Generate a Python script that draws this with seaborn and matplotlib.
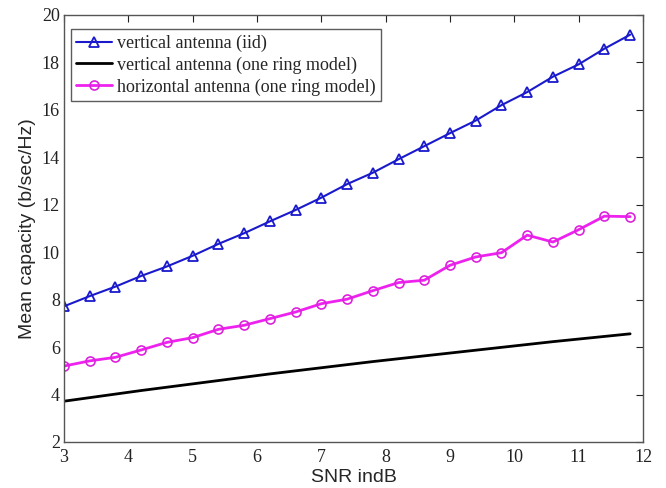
import numpy as np
import pandas as pd
import matplotlib
matplotlib.use("Agg")
import matplotlib.pyplot as plt
import seaborn as sns

snr_db = [3.0, 3.4, 3.8, 4.2, 4.6, 5.0, 5.4, 5.8, 6.2, 6.6, 7.0, 7.4,
          7.8, 8.2, 8.6, 9.0, 9.4, 9.8, 10.2, 10.6, 11.0, 11.4, 11.8]

vertical_iid = [7.72, 8.15, 8.55, 9.0, 9.4, 9.85, 10.35, 10.8, 11.3, 11.78,
                12.3, 12.87, 13.35, 13.92, 14.47, 15.02, 15.55, 16.2, 16.75,
                17.4, 17.92, 18.58, 19.17]

vertical_ring = [3.72, 3.87, 4.02, 4.17, 4.31, 4.45, 4.59, 4.73, 4.87, 5.0,
                 5.13, 5.26, 5.39, 5.51, 5.63, 5.75, 5.87, 5.99, 6.11, 6.23,
                 6.34, 6.45, 6.56]

horizontal_ring = [5.2, 5.42, 5.57, 5.88, 6.2, 6.4, 6.75, 6.92, 7.2, 7.48,
                   7.83, 8.02, 8.38, 8.72, 8.82, 9.45, 9.8, 9.98, 10.72,
                   10.43, 10.95, 11.52, 11.5]

labels = ["vertical antenna (iid)",
          "vertical antenna (one ring model)",
          "horizontal antenna (one ring model)"]

df = pd.DataFrame({"snr": snr_db, "iid": vertical_iid,
                   "vring": vertical_ring, "hring": horizontal_ring})

sns.set_style("white")
plt.rcParams["font.family"] = ["Liberation Serif", "DejaVu Serif"]

fig = plt.figure(figsize=(6.66, 4.88), dpi=100)
ax = fig.add_axes([64 / 666, 1 - 442 / 488, (643 - 64) / 666, (442 - 15) / 488])

sns.lineplot(data=df, x="snr", y="iid", ax=ax, color="#1a1acc", lw=1.5,
             marker="^", markersize=7, markerfacecolor="none",
             markeredgecolor="#1a1acc", markeredgewidth=1.3, label=labels[0])
sns.lineplot(data=df, x="snr", y="vring", ax=ax, color="black", lw=2.0,
             label=labels[1])
sns.lineplot(data=df, x="snr", y="hring", ax=ax, color="#ee22ee", lw=2.0,
             marker="o", markersize=6.5, markerfacecolor="none",
             markeredgecolor="#dd22dd", markeredgewidth=1.2, label=labels[2])

ax.set_xlim(3, 12)
ax.set_ylim(2, 20)
ax.set_xticks(range(3, 13))
ax.set_yticks(range(2, 21, 2))
ax.tick_params(direction="in", length=5, width=0.8, top=True, right=True,
               labelsize=13, colors="#222222", pad=3)
ax.tick_params(axis="x", pad=5)
for s in ax.spines.values():
    s.set_color("#555555")
    s.set_linewidth(1.0)

ax.set_xlabel("SNR indB", family=["Liberation Sans"], fontsize=14, labelpad=2)
ax.set_ylabel("Mean capacity (b/sec/Hz)", family=["Liberation Sans"],
              fontsize=14, labelpad=4)

leg = ax.legend(loc="upper left", bbox_to_anchor=(0.005, 0.975), fontsize=13,
                frameon=True, fancybox=False, borderpad=0.3, labelspacing=0.25,
                handlelength=2.0, handletextpad=0.3, borderaxespad=0.2)
leg.get_frame().set_edgecolor("#333333")
leg.get_frame().set_linewidth(1.0)

fig.savefig("out.png", dpi=100)
